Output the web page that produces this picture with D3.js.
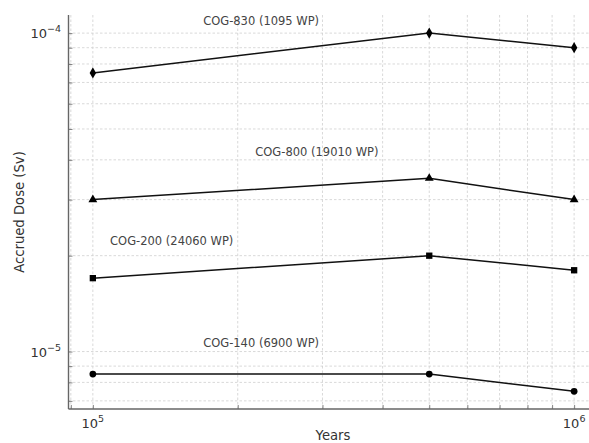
<!DOCTYPE html>
<html>
<head>
<meta charset="utf-8">
<script src="https://cdn.jsdelivr.net/npm/d3@7"></script>
<style>
  body { margin: 0; background: #fff; }
  svg { display: block; font-family: "DejaVu Sans", sans-serif; }
</style>
</head>
<body>
<svg id="chart" width="589" height="443"></svg>
<script>
// ---- data ----
const years = [1e5, 5e5, 1e6];
const seriesNames = ["COG-830 (1095 WP)", "COG-800 (19010 WP)", "COG-200 (24060 WP)", "COG-140 (6900 WP)"];
const cog830 = [7.5e-5, 1.0e-4, 9.0e-5];
const cog800 = [3.0e-5, 3.5e-5, 3.0e-5];
const cog200 = [1.7e-5, 2.0e-5, 1.8e-5];
const cog140 = [8.5e-6, 8.5e-6, 7.5e-6];
const markers = ["diamond", "triangle", "square", "circle"];
const xTickValues = [1e5, 1e6];
const xTickExps = ["5", "6"];
const yTickValues = [1e-4, 1e-5];
const yTickExps = ["\u22124", "\u22125"];
const xLabel = "Years";
const yLabel = "Accrued Dose (Sv)";
// label anchor points (data coordinates)
const labelX = [1.695e5, 2.175e5, 1.086e5, 1.695e5];
const labelY = [1.062e-4, 4.10e-5, 2.156e-5, 1.035e-5];

const allSeries = [cog830, cog800, cog200, cog140];

// ---- layout ----
const svg = d3.select("#chart");
const margin = { left: 68.5, top: 15, right: 598, bottom: 409 };

const x = d3.scaleLog().domain([0.89e5, 1.121e6]).range([margin.left, margin.right]);
const y = d3.scaleLog().domain([6.6e-6, 1.14e-4]).range([margin.bottom, margin.top]);

const clipId = "plotclip";
svg.append("defs").append("clipPath").attr("id", clipId)
  .append("rect").attr("x", margin.left).attr("y", margin.top)
  .attr("width", margin.right - margin.left).attr("height", margin.bottom - margin.top);

// grid values
const xGrid = [];
for (let d = 1e4; d <= 1e6; d *= 10) for (let m = 1; m <= 9; m++) { const v = m * d; if (v >= x.domain()[0] && v <= x.domain()[1]) xGrid.push(v); }
const yGrid = [];
for (let d = 1e-6; d <= 1e-4; d *= 10) for (let m = 1; m <= 9; m++) { const v = m * d; if (v >= y.domain()[0] && v <= y.domain()[1]) yGrid.push(v); }

const grid = svg.append("g").attr("clip-path", `url(#${clipId})`);
grid.selectAll(".gx").data(xGrid).join("line")
  .attr("x1", d => x(d)).attr("x2", d => x(d))
  .attr("y1", margin.top).attr("y2", margin.bottom)
  .attr("stroke", "#cfcfcf").attr("stroke-width", 0.8).attr("stroke-dasharray", "2.5,2");
grid.selectAll(".gy").data(yGrid).join("line")
  .attr("y1", d => y(d)).attr("y2", d => y(d))
  .attr("x1", margin.left).attr("x2", margin.right)
  .attr("stroke", "#cfcfcf").attr("stroke-width", 0.8).attr("stroke-dasharray", "2.5,2");

// axes (inward ticks)
const xAxis = d3.axisTop(x).tickValues(xGrid).tickSize(4).tickFormat("");
svg.append("g").attr("transform", `translate(0,${margin.bottom})`).call(xAxis)
  .call(g => g.select(".domain").remove())
  .call(g => g.selectAll("line").attr("stroke", "#666").attr("stroke-width", 0.8));
const yAxis = d3.axisRight(y).tickValues(yGrid).tickSize(4).tickFormat("");
svg.append("g").attr("transform", `translate(${margin.left},0)`).call(yAxis)
  .call(g => g.select(".domain").remove())
  .call(g => g.selectAll("line").attr("stroke", "#666").attr("stroke-width", 0.8));

// spines
svg.append("line").attr("x1", margin.left).attr("x2", margin.left)
  .attr("y1", margin.top).attr("y2", margin.bottom)
  .attr("stroke", "#666").attr("stroke-width", 1.4);
svg.append("line").attr("x1", margin.left).attr("x2", margin.right)
  .attr("y1", margin.bottom).attr("y2", margin.bottom)
  .attr("stroke", "#666").attr("stroke-width", 1.4);

// tick labels
xTickValues.forEach((v, i) => {
  const t = svg.append("text").attr("x", x(v)).attr("y", 428)
    .attr("text-anchor", "middle").attr("fill", "#333").attr("font-size", 13);
  t.append("tspan").text("10");
  t.append("tspan").text(xTickExps[i]).attr("font-size", 9.5).attr("dy", -6);
});
yTickValues.forEach((v, i) => {
  const t = svg.append("text").attr("x", 61).attr("y", y(v) + 5)
    .attr("text-anchor", "end").attr("fill", "#333").attr("font-size", 13);
  t.append("tspan").text("10");
  t.append("tspan").text(yTickExps[i]).attr("font-size", 9.5).attr("dy", -6);
});

// axis labels
svg.append("text").attr("x", 333).attr("y", 440).attr("text-anchor", "middle")
  .attr("fill", "#333").attr("font-size", 13.2).text(xLabel);
svg.append("text").attr("transform", `translate(24,212) rotate(-90)`)
  .attr("text-anchor", "middle").attr("fill", "#333").attr("font-size", 13.2).text(yLabel);

// lines & markers
const line = d3.line().x((d, i) => x(years[i])).y(d => y(d));
const symMap = { diamond: d3.symbolDiamond, triangle: d3.symbolTriangle, square: d3.symbolSquare, circle: d3.symbolCircle };
const symSize = { diamond: 36, triangle: 34, square: 40, circle: 36 };

allSeries.forEach((vals, s) => {
  svg.append("path").datum(vals).attr("d", line)
    .attr("fill", "none").attr("stroke", "#111").attr("stroke-width", 1.5);
  svg.selectAll(null).data(vals).join("path")
    .attr("transform", (d, i) => `translate(${x(years[i])},${y(d)})`)
    .attr("d", d3.symbol().type(symMap[markers[s]]).size(symSize[markers[s]]))
    .attr("fill", "#000");
  svg.append("text").attr("x", x(labelX[s])).attr("y", y(labelY[s]))
    .attr("fill", "#444").attr("font-size", 11.5).text(seriesNames[s]);
});
</script>
</body>
</html>
